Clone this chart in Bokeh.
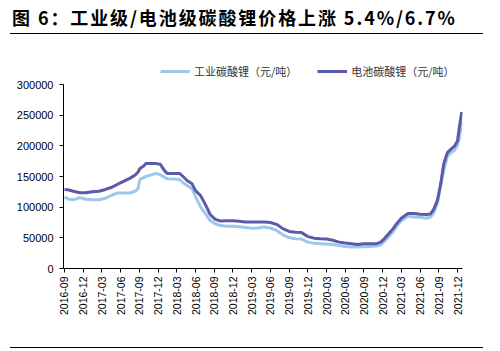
from bokeh.plotting import figure
from bokeh.layouts import column
from bokeh.models import Range1d, FixedTicker, Legend, LegendItem, ColumnDataSource, Div
from bokeh.embed import file_html
from bokeh.resources import INLINE
import calendar

# ---- data ----
dates = ["2016-09-01", "2016-09-22", "2016-10-15", "2016-11-15", "2016-12-15", "2017-01-15",
         "2017-02-15", "2017-03-15", "2017-04-15", "2017-05-15", "2017-06-15", "2017-07-15",
         "2017-08-10", "2017-08-25", "2017-09-04", "2017-09-22", "2017-10-01", "2017-11-01",
         "2017-11-22", "2017-12-12", "2018-01-01", "2018-01-15", "2018-02-15", "2018-03-15",
         "2018-04-01", "2018-04-22", "2018-05-15", "2018-06-01", "2018-06-25", "2018-07-18",
         "2018-08-12", "2018-09-06", "2018-10-01", "2018-11-01", "2018-12-01", "2019-01-01",
         "2019-02-01", "2019-03-01", "2019-04-01", "2019-05-01", "2019-06-01", "2019-07-01",
         "2019-08-01", "2019-09-01", "2019-10-01", "2019-11-01", "2019-12-01", "2020-01-01",
         "2020-02-01", "2020-03-01", "2020-04-01", "2020-05-01", "2020-06-01", "2020-07-01",
         "2020-08-01", "2020-09-01", "2020-10-01", "2020-11-01", "2020-11-22", "2020-12-10",
         "2021-01-01", "2021-01-22", "2021-02-10", "2021-03-01", "2021-04-01", "2021-05-01",
         "2021-06-01", "2021-07-01", "2021-07-22", "2021-08-06", "2021-08-25", "2021-09-10",
         "2021-09-25", "2021-10-13", "2021-11-01", "2021-11-15", "2021-12-01", "2021-12-10",
         "2021-12-22"]

battery = [129000, 128000, 126000, 123500, 123500, 125000,
           126000, 128500, 132000, 137000, 142000, 147000,
           152000, 157000, 163000, 167000, 171000, 171000,
           171000, 170000, 160000, 155000, 155000, 155000,
           150000, 143000, 138000, 127000, 119000, 105000,
           88000, 80000, 77500, 78000, 78000, 77000,
           76000, 76000, 76000, 76000, 75000, 72000,
           65000, 60500, 59000, 58500, 52000, 49500,
           48500, 48000, 46000, 43000, 41500, 40500,
           39000, 40500, 40500, 40500, 43000, 49000,
           57000, 65000, 74000, 82000, 89500, 89500,
           88500, 88000, 89000, 96000, 111000, 138000,
           171000, 189000, 195000, 199000, 208000, 230000,
           255000]

industrial = [116500, 113000, 112000, 115500, 113000, 112000,
              112000, 114000, 119000, 123000, 123000, 123000,
              126000, 130000, 146000, 148000, 150000, 153000,
              155000, 153000, 149000, 146500, 146000, 145000,
              140000, 135000, 130000, 117000, 101000, 90000,
              78000, 73000, 70000, 69000, 69000, 68000,
              67000, 65500, 66000, 67500, 66000, 62000,
              55000, 50500, 48500, 48000, 43000, 41000,
              40500, 40000, 39000, 37500, 36000, 35000,
              35000, 35500, 36000, 36500, 38500, 44000,
              52000, 60000, 70000, 78000, 85000, 84000,
              83500, 82000, 84000, 90000, 106000, 135000,
              160000, 183000, 189000, 192000, 201000, 212000,
              239000]

tick_labels = ["2016-09", "2016-12", "2017-03", "2017-06", "2017-09", "2017-12", "2018-03",
               "2018-06", "2018-09", "2018-12", "2019-03", "2019-06", "2019-09", "2019-12",
               "2020-03", "2020-06", "2020-09", "2020-12", "2021-03", "2021-06", "2021-09",
               "2021-12"]

y_ticks = [0, 50000, 100000, 150000, 200000, 250000, 300000]

name_ind = "工业碳酸锂（元/吨）"
name_bat = "电池碳酸锂（元/吨）"
title_text = "图 6：工业级/电池级碳酸锂价格上涨 5.4%/6.7%"


def month_index(s):
    y, m, d = (int(v) for v in s.split("-"))
    return (y - 2016) * 12 + (m - 9) + (d - 1) / calendar.monthrange(y, m)[1]


xs = [month_index(d) for d in dates]
tick_pos = list(range(0, 64, 3))

src = ColumnDataSource(dict(x=xs, bat=battery, ind=industrial))

W = 500

# ---------- title strip ----------
title_html = (
    '<div style="margin:0 0 0 10px;padding:0;width:473px;height:34px;box-sizing:border-box;'
    'border-bottom:1px solid #000000;position:relative;">'
    '<div style="position:absolute;left:2px;top:5px;font-family:\'Noto Sans CJK SC\';'
    'font-weight:bold;font-size:18px;letter-spacing:1.9px;line-height:24px;'
    'white-space:nowrap;color:#000;">'
    + title_text +
    '</div>'
    '</div>'
)
t = Div(text=title_html, width=W, height=40, margin=0)

# ---------- main chart ----------
y_top = 300000 * 228 / 184
p = figure(width=W, height=291, output_backend="svg", toolbar_location=None,
           x_range=Range1d(-0.16, 63.8), y_range=Range1d(0, y_top),
           min_border_left=63, min_border_right=38, min_border_top=0, min_border_bottom=63)
p.outline_line_color = None
p.xgrid.visible = False
p.ygrid.visible = False
p.border_fill_color = None
p.background_fill_color = None

FONT = "Liberation Sans"

p.yaxis.ticker = FixedTicker(ticks=y_ticks)
p.yaxis.major_label_overrides = {v: str(v) for v in y_ticks}
p.yaxis.bounds = (0, 300000)
p.yaxis.major_label_text_font = FONT
p.yaxis.major_label_text_font_size = "11px"
p.yaxis.major_label_text_color = "#000000"
p.yaxis.axis_line_color = "#000000"
p.yaxis.major_tick_line_color = "#000000"
p.yaxis.major_tick_out = 4
p.yaxis.major_tick_in = 0
p.yaxis.minor_tick_line_color = None
p.yaxis.major_label_standoff = 6

p.xaxis.ticker = FixedTicker(ticks=tick_pos)
p.xaxis.major_label_overrides = {i: lab for i, lab in zip(tick_pos, tick_labels)}
p.xaxis.major_label_orientation = 1.5708
p.xaxis.major_label_text_font = FONT
p.xaxis.major_label_text_font_size = "10.5px"
p.xaxis.major_label_text_color = "#000000"
p.xaxis.axis_line_color = "#000000"
p.xaxis.major_tick_line_color = "#000000"
p.xaxis.major_tick_out = 4
p.xaxis.major_tick_in = 0
p.xaxis.minor_tick_line_color = None
p.xaxis.major_label_standoff = 4

r_ind = p.line("x", "ind", source=src, line_color="#9DC8EB", line_width=3)
r_bat = p.line("x", "bat", source=src, line_color="#5A5AA8", line_width=3)

legend = Legend(items=[LegendItem(label=name_ind, renderers=[r_ind]),
                       LegendItem(label=name_bat, renderers=[r_bat])],
                orientation="horizontal", location=(97, 189),
                label_text_font="Noto Sans CJK SC", label_text_font_size="11px",
                label_text_color="#333333", glyph_width=30, glyph_height=10,
                spacing=20, padding=0, margin=0, label_standoff=4,
                background_fill_alpha=0, border_line_color=None)
p.add_layout(legend)

# ---------- bottom rule ----------
bottom_html = (
    '<div style="position:relative;width:500px;height:20px;margin:0;padding:0;">'
    '<div style="position:absolute;left:10px;top:16px;width:473px;height:1px;background:#000;"></div>'
    '</div>'
)
b = Div(text=bottom_html, width=W, height=20, margin=0)

layout = column(t, p, b, spacing=0)
open("out.html", "w").write(file_html(layout, INLINE))
